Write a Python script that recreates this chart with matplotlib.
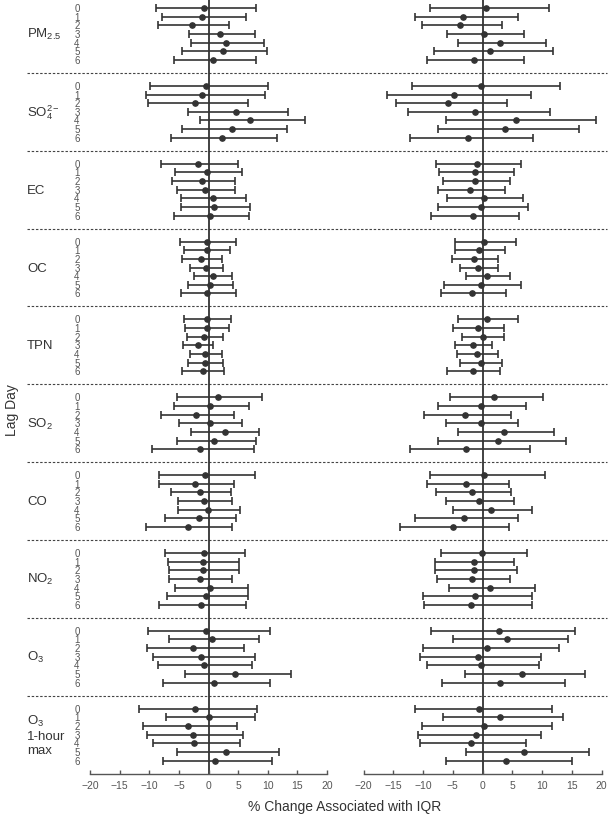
import matplotlib
matplotlib.use("Agg")
import matplotlib.pyplot as plt
import matplotlib.transforms as mtransforms
import numpy as np

plt.rcParams['font.family'] = ['Liberation Sans', 'DejaVu Sans']
plt.rcParams['mathtext.fontset'] = 'custom'
plt.rcParams['mathtext.rm'] = 'Liberation Sans'
plt.rcParams['mathtext.it'] = 'Liberation Sans'
plt.rcParams['mathtext.default'] = 'regular'

groups = ["PM$_{2.5}$", "SO$_4^{2-}$", "EC", "OC", "TPN", "SO$_2$", "CO", "NO$_2$", "O$_3$", "O$_3$\n1-hour\nmax"]
lags = [0, 1, 2, 3, 4, 5, 6]
xticks = [-20, -15, -10, -5, 0, 5, 10, 15, 20]

# Left panel: (estimate, lower, upper) per group, per lag
left_est = [
    [-0.7, -1.1, -2.8, 2.0, 3.0, 2.4, 0.8],
    [-0.4, -1.1, -2.2, 4.6, 7.0, 4.0, 2.2],
    [-1.7, -0.2, -1.1, -0.6, 0.7, 0.9, 0.3],
    [-0.2, -0.2, -1.2, -0.4, 0.7, 0.3, -0.2],
    [-0.3, -0.3, -0.7, -1.8, -0.6, -0.6, -1.0],
    [1.6, 0.3, -2.1, 0.2, 2.8, 1.0, -1.5],
    [-0.6, -2.2, -1.5, -0.8, -0.1, -1.6, -3.5],
    [-0.8, -1.0, -1.0, -1.5, 0.3, -0.5, -1.3],
    [-0.4, 0.6, -2.6, -1.2, -0.8, 4.5, 0.9],
    [-2.2, 0.1, -3.5, -2.6, -2.4, 2.9, 1.1],
]
left_lo = [
    [-8.8, -7.8, -8.6, -3.3, -2.9, -4.4, -5.8],
    [-9.8, -10.5, -10.2, -3.4, -1.5, -4.5, -6.3],
    [-8.0, -5.7, -6.1, -5.3, -4.6, -4.7, -5.8],
    [-4.8, -4.1, -4.4, -3.2, -2.5, -3.4, -4.7],
    [-4.2, -4.0, -3.7, -4.3, -3.1, -3.4, -4.4],
    [-5.3, -5.8, -8.0, -4.9, -2.9, -5.4, -9.6],
    [-8.3, -8.3, -6.4, -5.2, -5.2, -7.4, -10.5],
    [-7.3, -6.9, -6.7, -6.7, -5.7, -7.0, -8.3],
    [-10.2, -6.6, -10.4, -9.3, -8.5, -4.0, -7.7],
    [-11.7, -7.1, -11.1, -10.3, -9.4, -5.3, -7.7],
]
left_hi = [
    [8.0, 6.3, 3.4, 7.8, 9.4, 9.8, 8.0],
    [10.0, 9.5, 6.6, 13.4, 16.3, 13.2, 11.6],
    [5.0, 5.7, 4.4, 4.4, 6.3, 7.0, 6.8],
    [4.7, 3.7, 2.3, 2.5, 4.0, 4.2, 4.6],
    [3.8, 3.5, 2.4, 0.8, 2.2, 2.5, 2.6],
    [9.0, 6.8, 4.3, 5.7, 8.5, 8.0, 7.6],
    [7.8, 4.3, 3.8, 4.0, 5.3, 4.6, 4.0],
    [6.1, 5.2, 5.1, 3.9, 6.7, 6.6, 6.3],
    [10.4, 8.6, 6.0, 7.8, 7.3, 13.9, 10.3],
    [8.2, 7.9, 4.8, 5.8, 5.3, 11.9, 10.8],
]

right_est = [
    [0.6, -3.2, -3.8, 0.3, 3.0, 1.2, -1.5],
    [-0.2, -4.8, -5.8, -1.3, 5.7, 3.7, -2.4],
    [-1.0, -1.2, -1.2, -2.1, 0.2, -0.2, -1.6],
    [0.3, -0.6, -1.4, -0.7, 0.8, -0.3, -1.7],
    [0.7, -0.8, 0.0, -1.6, -1.0, -0.3, -1.6],
    [2.0, -0.3, -2.9, -0.3, 3.6, 2.6, -2.7],
    [0.3, -2.8, -1.7, -0.6, 1.5, -3.1, -5.0],
    [-0.1, -1.5, -1.4, -1.7, 1.3, -1.2, -1.9],
    [2.7, 4.2, 0.8, -0.8, -0.3, 6.7, 3.0],
    [-0.6, 2.9, 0.2, -1.1, -2.0, 7.0, 3.9],
]
right_lo = [
    [-8.9, -11.4, -10.2, -5.9, -4.1, -8.2, -9.3],
    [-11.8, -16.1, -14.6, -12.6, -6.2, -7.5, -12.2],
    [-7.8, -7.3, -6.7, -7.5, -6.0, -7.5, -8.7],
    [-4.7, -4.7, -5.1, -3.8, -2.8, -6.5, -7.0],
    [-4.1, -4.9, -3.4, -4.6, -4.3, -3.7, -6.0],
    [-5.4, -7.4, -9.9, -6.2, -4.1, -7.5, -12.2],
    [-8.9, -9.4, -7.8, -6.2, -4.9, -11.3, -13.8],
    [-7.0, -7.9, -7.9, -7.6, -5.6, -10.0, -9.9],
    [-8.7, -5.0, -10.0, -10.5, -9.3, -2.9, -6.8],
    [-11.3, -6.7, -10.1, -10.8, -10.5, -2.7, -6.2],
]
right_hi = [
    [11.2, 5.9, 3.2, 7.0, 10.7, 11.8, 7.0],
    [13.1, 8.2, 4.1, 11.3, 19.1, 16.3, 8.5],
    [6.4, 5.3, 4.6, 3.7, 6.8, 7.7, 6.2],
    [5.6, 3.8, 2.6, 2.6, 4.6, 6.4, 4.0],
    [5.9, 3.6, 3.6, 1.6, 2.6, 3.3, 3.0],
    [10.1, 7.3, 4.8, 6.0, 12.1, 14.0, 7.9],
    [10.5, 4.5, 4.8, 5.3, 8.3, 6.0, 4.5],
    [7.4, 5.3, 5.8, 4.6, 8.8, 8.4, 8.4],
    [15.6, 14.4, 12.9, 9.9, 9.5, 17.3, 13.9],
    [11.6, 13.5, 11.6, 9.8, 7.3, 17.9, 15.1],
]

W, H = 612, 820
fig = plt.figure(figsize=(W / 100, H / 100), dpi=100)

# slot positions: 9 slots per group
slot = 9
ypos = np.array([[g * slot + l for l in lags] for g in range(len(groups))])
ytop, ybot = -1.04, 88.55

col = "#333333"

def make_ax(x0, x1, est, lo, hi):
    ax = fig.add_axes([x0 / W, (H - 775) / H, (x1 - x0) / W, 775 / H])
    ax.set_xlim(-20, 20)
    ax.set_ylim(ybot, ytop)
    ax.patch.set_alpha(0)
    for s in ["top", "right", "left"]:
        ax.spines[s].set_visible(False)
    ax.spines["bottom"].set_color("#555555")
    ax.spines["bottom"].set_linewidth(1.0)
    ax.set_yticks([])
    ax.set_xticks(xticks)
    ax.set_xticklabels([("\u2212%d" % -t) if t < 0 else "%d" % t for t in xticks])
    ax.tick_params(axis="x", direction="in", length=3, width=1.0, color="#555555",
                   labelsize=7.5, labelcolor="#555555", pad=4)
    ax.axvline(0, color=col, lw=1.3, zorder=1)
    e = np.array(est).ravel()
    l = np.array(lo).ravel()
    h = np.array(hi).ravel()
    y = ypos.ravel()
    ax.errorbar(e, y, xerr=[e - l, h - e], fmt="o", color=col, ecolor=col,
                elinewidth=1.2, capsize=2.6, capthick=1.2, markersize=3.8, zorder=3)
    return ax

ax1 = make_ax(90, 327, left_est, left_lo, left_hi)
ax2 = make_ax(363.5, 601.5, right_est, right_lo, right_hi)

# dashed separators spanning both panels
trans = mtransforms.blended_transform_factory(fig.transFigure, ax1.transData)
for g in range(1, len(groups)):
    yy = g * slot - 1.5
    ax1.plot([27 / W, 607 / W], [yy, yy], transform=trans, ls=(0, (2.2, 1.6)),
             color="#444444", lw=0.8, clip_on=False, zorder=0)

# group labels and lag labels
for g, name in enumerate(groups):
    ax1.text(27 / W, g * slot + 3, name, transform=trans, ha="left", va="center",
             fontsize=9.5, color="#333333", linespacing=1.25)
    for l in lags:
        ax1.text(77 / W, g * slot + l, str(l), transform=trans, ha="center", va="center",
                 fontsize=7, color="#555555")

fig.text(12 / W, 1 - 410 / H, "Lag Day", rotation=90, ha="center", va="center",
         fontsize=10, color="#333333")
fig.text(345 / W, 1 - 807 / H, "% Change Associated with IQR", ha="center", va="center",
         fontsize=10, color="#333333")

fig.savefig("out.png", dpi=100)
